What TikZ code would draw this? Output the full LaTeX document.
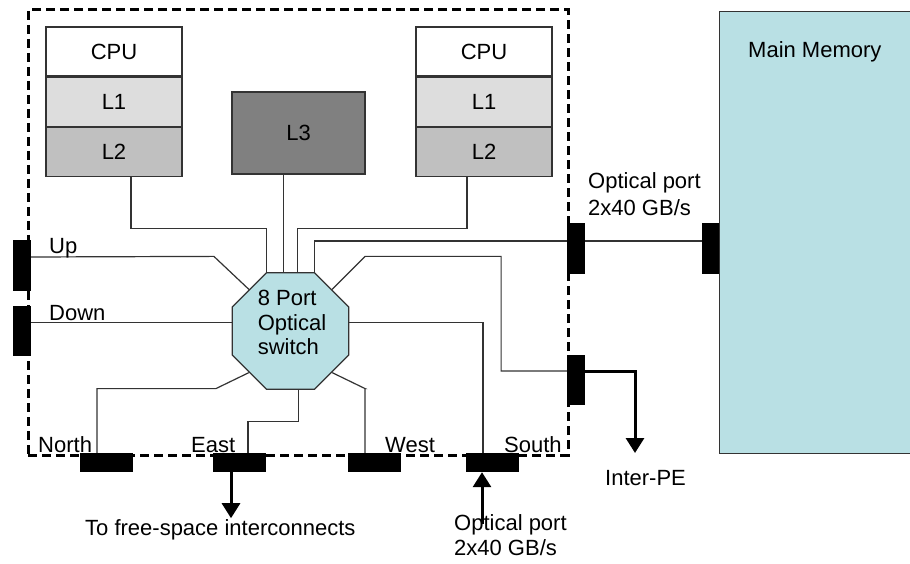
\documentclass[tikz,border=0pt]{standalone}
\usepackage{fontspec}
\setmainfont{Liberation Sans}
\usepackage{xcolor}
\usetikzlibrary{arrows.meta,shapes.geometric,positioning}

\definecolor{memblue}{RGB}{185,224,228}
\definecolor{wiregray}{RGB}{51,51,51}
\definecolor{lonegray}{RGB}{221,221,221}
\definecolor{ltwogray}{RGB}{192,192,192}
\definecolor{lthreegray}{RGB}{128,128,128}

\begin{document}
\begin{tikzpicture}[x=1pt, y=-1pt,
        every node/.style={font=\fontsize{22}{27}\selectfont},
        chip/.style={draw=black, line width=3pt, dash pattern=on 9pt off 5pt, minimum width=540pt, minimum height=445pt, inner sep=0pt},
        unit/.style={draw=wiregray, line width=1.3pt, minimum width=136pt, minimum height=49pt, inner sep=0pt},
        octo/.style={regular polygon, regular polygon sides=8, minimum size=126pt, draw=wiregray, line width=1.3pt, fill=memblue, inner sep=0pt},
        port/.style={fill=black, inner sep=0pt},
        vport/.style={port, minimum width=18pt, minimum height=51pt},
        hport/.style={port, minimum width=53pt, minimum height=19pt},
        txt/.style={inner sep=0pt, anchor=base west},
        wire/.style={draw=wiregray, line width=1.2pt},
        outflow/.style={-{Triangle[width=18pt,length=15pt]}, line width=3pt}
    ]
        \useasboundingbox (0,0) rectangle (910,564);

        \node[chip] (chip) at (298,232.5) {};

        \node[unit] (cpua) at (114,51.5) {CPU};
        \node[unit, fill=lonegray, below=0pt of cpua] (l1a) {L1};
        \node[unit, fill=ltwogray, below=0pt of l1a] (l2a) {L2};
        \node[unit] (cpub) at (484,51.5) {CPU};
        \node[unit, fill=lonegray, below=0pt of cpub] (l1b) {L1};
        \node[unit, fill=ltwogray, below=0pt of l1b] (l2b) {L2};
        \node[unit, fill=lthreegray, minimum width=133pt, minimum height=82pt] (l3) at (298.5,133) {L3};

        \node[octo, label={[align=left, font=\fontsize{22}{24.5}\selectfont, xshift=1.5pt, yshift=8.5pt]center:{8 Port\\Optical\\switch}}] (sw) at (290.5,331) {};

        \node[draw=wiregray, line width=1.3pt, fill=memblue, minimum width=193pt, minimum height=442pt, anchor=north west, inner sep=0pt] (mem) at (719,11) {};
        \node[txt] (lmem) at (748,58) {Main Memory};

        \node[vport] (pup) at (22,265.5) {};
        \node[vport, minimum height=50pt] (pdown) at (22,331) {};
        \node[vport] (popt) at (576,248.5) {};
        \node[vport, minimum height=50pt] (pipe) at (576,380) {};
        \node[vport, minimum width=17pt] (pmem) at (710.5,248.5) {};
        \node[hport] (pnorth) at (106,462.5) {};
        \node[hport] (peast) at (239.5,462.5) {};
        \node[hport] (pwest) at (374,462.5) {};
        \node[hport] (psouth) at (492,462.5) {};

        \draw[wire] ([xshift=17pt]l2a.south) -- ++(0,51) -| (sw.112);
        \draw[wire] (sw.97) -- (sw.97 |- l3.south);
        \draw[wire] ([xshift=-17pt]l2b.south) -- ++(0,51) -| (sw.83);
        \draw[wire] (sw.68) |- ([yshift=7.5pt]popt.west);
        \draw[wire] ([yshift=7.5pt]popt.east) -- ([yshift=7.5pt]pmem.west);
        \draw[wire] (sw.135) -- ++(-35,-33) -- ([yshift=8.5pt]pup.east);
        \draw[wire] (sw.172) -- (sw.172 -| pdown.east);
        \draw[wire] (sw.45) -- ++(33,-33) -- ++(136,0) |- ([yshift=9pt]pipe.west);
        \draw[wire] (sw.8) -| ([xshift=-9pt]psouth.north);
        \draw[wire] (sw.225) -- ++(-33,16) -| ([xshift=-9pt]pnorth.north);
        \draw[wire] (sw.278) -- ++(0,32) -| ([xshift=8.5pt]peast.north);
        \draw[wire] (sw.315) -- ++(33,16) -| ([xshift=-9pt]pwest.north);

        \node[txt] (lup) at (49,253) {Up};
        \node[txt] (ldown) at (49,320) {Down};
        \node[txt] (lnorth) at (38,452) {North};
        \node[txt] (least) at (191,452) {East};
        \node[txt] (lwest) at (385,452) {West};
        \node[txt] (lsouth) at (504,452) {South};
        \node[txt, anchor=north west, align=left] (loptr) at (588,172) {Optical port\\2x40 GB/s};
        \node[txt] (lipe) at (605,485) {Inter-PE};
        \node[txt] (lfree) at (85,535) {To free-space interconnects};
        \node[txt, anchor=north west, align=left, font=\fontsize{22}{25.5}\selectfont] (lopts) at (454,514) {Optical port\\2x40 GB/s};

        \coordinate (ipetip) at (635,453);
        \draw[outflow] ([yshift=9pt]pipe.east) -| (ipetip);
        \draw[outflow] ([xshift=-8.5pt]peast.south) -- ++(0,46);
        \draw[outflow] ([xshift=-10pt]psouth.south) ++(0,52) -- ++(0,-52);
    \end{tikzpicture}
\end{document}
